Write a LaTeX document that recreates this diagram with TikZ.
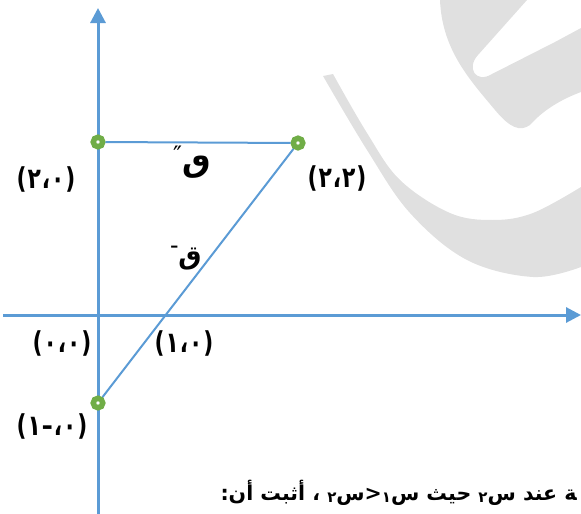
\documentclass[tikz,border=0pt]{standalone}
\usepackage{fontspec}
\usetikzlibrary{arrows.meta}
\newfontfamily\arabicfont[Script=Arabic]{DejaVu Sans}
\newfontfamily\plainfont{DejaVu Sans}
\TeXXeTstate=1
\definecolor{axisblue}{HTML}{5B9BD5}
\definecolor{ptgreen}{HTML}{70AD47}
\definecolor{wmgray}{HTML}{E0E0E0}
\newcommand{\pr}[2]{\scalebox{0.95}[1.25]{(\kern1pt#1\kern1pt،\kern1pt#2\kern1pt)}}
\newcommand{\sbd}[1]{\raisebox{-2.5pt}{\fontsize{15}{15}\selectfont #1}}
\begin{document}
\begin{tikzpicture}[x=1pt,y=-1pt,
  axis/.style={axisblue, line width=3pt, -{Triangle[length=15pt,width=15pt]}},
  seg/.style={axisblue, line width=2pt},
  pt/.style={circle, draw=ptgreen, fill=white, line width=5.5pt, inner sep=0pt, minimum size=9.5pt},
  coordlbl/.style={font=\plainfont\bfseries\fontsize{23}{26}\selectfont, inner sep=0pt},
  lettr/.style={font=\arabicfont\bfseries\fontsize{26}{30}\selectfont, inner sep=0pt},
  txtlbl/.style={font=\arabicfont\bfseries\fontsize{20.5}{24}\selectfont, inner sep=0pt}]
\useasboundingbox (0,0) rectangle (581,514);
% watermark
\fill[wmgray] plot[smooth, tension=0.6] coordinates {(323,76) (367,150) (410,213) (467,260) (533,277) (581,267)}
  -- (581,187) -- plot[smooth, tension=0.6] coordinates {(581,187) (533,213) (493,220) (450,213) (400,180) (367,133) (333,74)} -- cycle;
\fill[wmgray] (440,0) -- (527,0) -- (478,55) .. controls (466,68) and (476,84) .. (492,74) -- (555,42) -- (581,28) -- (581,92)
  .. controls (565,98) and (545,108) .. (530,125) .. controls (520,132) and (510,128) .. (495,110)
  .. controls (470,80) and (442,50) .. (440,0) -- cycle;
% axes
\coordinate (yb) at (98,514);
\coordinate (yt) at (98,8);
\coordinate (xl) at (3,315);
\coordinate (xr) at (581,315);
\draw[axis] (yb) -- (yt);
\draw[axis] (xl) -- (xr);
% points
\node[pt] (o02) at (98,142) {};
\node[pt] (p22) at (298,143) {};
\node[pt] (m01) at (98,403) {};
\draw[seg] (o02) -- (p22);
\draw[seg] (p22) -- (m01);
% labels
\node[coordlbl] (l02) at (46,179) {\pr{٢}{٠}};
\node[coordlbl] (l22) at (337,178) {\pr{٢}{٢}};
\node[coordlbl] (l00) at (62,343) {\pr{٠}{٠}};
\node[coordlbl] (l10) at (184,343) {\pr{١}{٠}};
\node[coordlbl] (lm1) at (52,426) {\scalebox{0.95}[1.25]{(\kern1pt١\kern1pt–\kern1pt،\kern1pt٠\kern1pt)}};
\node[lettr] (qd) at (186,258) {\beginR ق\raisebox{13pt}{\fontsize{16}{16}\selectfont –}\endR};
\node[lettr, font=\arabicfont\bfseries\fontsize{32}{36}\selectfont] (qdd) at (192,162) {\beginR ٯ\raisebox{8pt}{\plainfont\mdseries\fontsize{24}{24}\selectfont ″}\endR};
\node[txtlbl, anchor=base east] (txt) at (577,500) {\beginR\char"200Dة عند س\sbd{٢} حيث س\sbd{١}<س\sbd{٢} ، أثبت أن:\endR};
\end{tikzpicture}
\end{document}
